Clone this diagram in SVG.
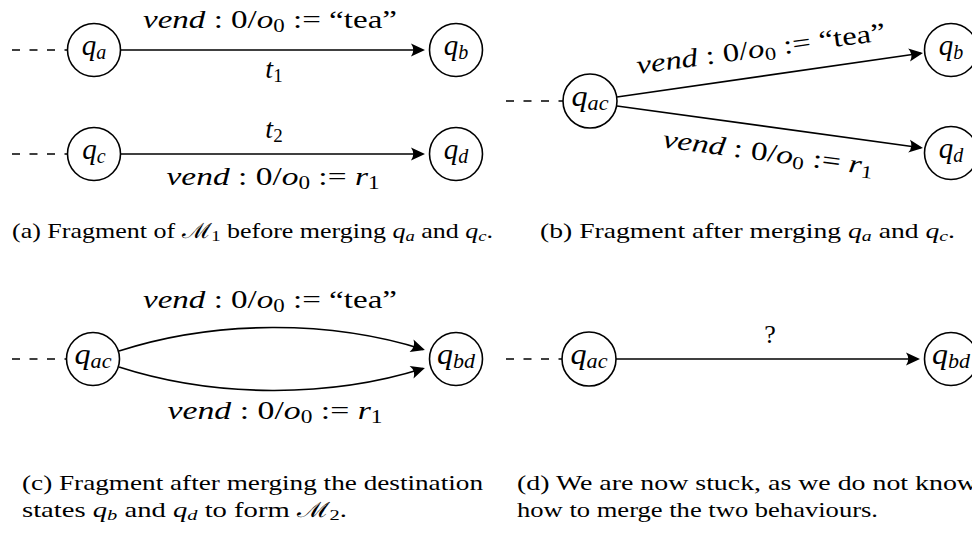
<svg xmlns="http://www.w3.org/2000/svg" width="972" height="533" viewBox="0 0 972 533" font-family="Liberation Serif, Times New Roman, serif">
<style>
text{font-family:'Liberation Serif','Times New Roman',serif;fill:#000}
.lbl{font-size:26px}
.cap{font-size:21px}
.i{font-style:italic}
.st{fill:#fff;stroke:#000;stroke-width:1.6}
.e{fill:none;stroke:#000;stroke-width:1.6}
.d{fill:none;stroke:#000;stroke-width:1.6;stroke-dasharray:8 9.5}
</style>
<defs>
<marker id="arr" markerUnits="userSpaceOnUse" orient="auto" overflow="visible" refX="-2" refY="0" markerWidth="20" markerHeight="20">
<path d="M0,0 L-14,-6.5 Q-9.5,0 -14,6.5 Z" fill="#000"/>
</marker>
</defs>

<g id="connectors">
<path class="d" d="M12,50 H68"/>
<path class="d" d="M12,154 H68"/>
<path class="e" d="M121,50 H423" marker-end="url(#arr)"/>
<path class="e" d="M121,154 H423" marker-end="url(#arr)"/>
<path class="d" d="M506,101 H563"/>
<path class="e" d="M617,97 L921,53.3" marker-end="url(#arr)"/>
<path class="e" d="M617,106 L921,147.7" marker-end="url(#arr)"/>
<path class="d" d="M12,359 H67"/>
<path class="e" d="M119,351 C215,320 330,320 423,349.4" marker-end="url(#arr)"/>
<path class="e" d="M119,367 C215,398 330,398 423,368.6" marker-end="url(#arr)"/>
<path class="d" d="M506,359 H562"/>
<path class="e" d="M616,359 H918" marker-end="url(#arr)"/>
</g>

<g id="labels" class="lbl" font-family="Liberation Serif, serif">
<text x="270" y="28" text-anchor="middle" textLength="254" lengthAdjust="spacingAndGlyphs"><tspan class="i">vend</tspan> : 0/<tspan class="i">o</tspan><tspan font-size="18" dy="4">0</tspan><tspan dy="-4"> := “tea”</tspan></text>
<text x="274" y="78" text-anchor="middle" font-size="28"><tspan class="i">t</tspan><tspan font-size="19" dy="4">1</tspan></text>
<text x="274" y="138" text-anchor="middle" font-size="28"><tspan class="i">t</tspan><tspan font-size="19" dy="4">2</tspan></text>
<text x="273" y="185" text-anchor="middle" textLength="213" lengthAdjust="spacingAndGlyphs"><tspan class="i">vend</tspan> : 0/<tspan class="i">o</tspan><tspan font-size="18" dy="4">0</tspan><tspan dy="-4"> := </tspan><tspan class="i">r</tspan><tspan font-size="18" dy="4">1</tspan></text>
<text x="762" y="57" text-anchor="middle" textLength="251" lengthAdjust="spacingAndGlyphs" transform="rotate(-7.8 762 57)"><tspan class="i">vend</tspan> : 0/<tspan class="i">o</tspan><tspan font-size="18" dy="4">0</tspan><tspan dy="-4"> := “tea”</tspan></text>
<text x="767" y="161" text-anchor="middle" textLength="212" lengthAdjust="spacingAndGlyphs" transform="rotate(7.5 767 161)"><tspan class="i">vend</tspan> : 0/<tspan class="i">o</tspan><tspan font-size="18" dy="4">0</tspan><tspan dy="-4"> := </tspan><tspan class="i">r</tspan><tspan font-size="18" dy="4">1</tspan></text>
<text x="270" y="308" text-anchor="middle" textLength="254" lengthAdjust="spacingAndGlyphs"><tspan class="i">vend</tspan> : 0/<tspan class="i">o</tspan><tspan font-size="18" dy="4">0</tspan><tspan dy="-4"> := “tea”</tspan></text>
<text x="275" y="419" text-anchor="middle" textLength="215" lengthAdjust="spacingAndGlyphs"><tspan class="i">vend</tspan> : 0/<tspan class="i">o</tspan><tspan font-size="18" dy="4">0</tspan><tspan dy="-4"> := </tspan><tspan class="i">r</tspan><tspan font-size="18" dy="4">1</tspan></text>
<text x="770" y="343" text-anchor="middle">?</text>
</g>

<g id="qa"><circle class="st" cx="94" cy="50" r="26.5"/><text x="94" y="55" text-anchor="middle" font-size="29"><tspan class="i">q</tspan><tspan class="i" font-size="20" dy="4">a</tspan></text></g>
<g id="qb"><circle class="st" cx="456" cy="50" r="26.5"/><text x="456" y="55" text-anchor="middle" font-size="29"><tspan class="i">q</tspan><tspan class="i" font-size="20" dy="4">b</tspan></text></g>
<g id="qc"><circle class="st" cx="94" cy="154" r="26.5"/><text x="94" y="159" text-anchor="middle" font-size="29"><tspan class="i">q</tspan><tspan class="i" font-size="20" dy="4">c</tspan></text></g>
<g id="qd"><circle class="st" cx="456" cy="154" r="26.5"/><text x="456" y="159" text-anchor="middle" font-size="29"><tspan class="i">q</tspan><tspan class="i" font-size="20" dy="4">d</tspan></text></g>

<g id="qac_b"><circle class="st" cx="590" cy="101" r="27"/><text x="590" y="106" text-anchor="middle" font-size="29" textLength="37" lengthAdjust="spacingAndGlyphs"><tspan class="i">q</tspan><tspan class="i" font-size="20" dy="4">ac</tspan></text></g>
<g id="qb_b"><circle class="st" cx="951" cy="50" r="26.5"/><text x="951" y="55" text-anchor="middle" font-size="29"><tspan class="i">q</tspan><tspan class="i" font-size="20" dy="4">b</tspan></text></g>
<g id="qd_b"><circle class="st" cx="951" cy="153" r="26.5"/><text x="951" y="158" text-anchor="middle" font-size="29"><tspan class="i">q</tspan><tspan class="i" font-size="20" dy="4">d</tspan></text></g>

<g id="qac_c"><circle class="st" cx="93" cy="359" r="26.5"/><text x="93" y="364" text-anchor="middle" font-size="29" textLength="37" lengthAdjust="spacingAndGlyphs"><tspan class="i">q</tspan><tspan class="i" font-size="20" dy="4">ac</tspan></text></g>
<g id="qbd_c"><circle class="st" cx="456" cy="359" r="26.5"/><text x="456" y="364" text-anchor="middle" font-size="29" textLength="38" lengthAdjust="spacingAndGlyphs"><tspan class="i">q</tspan><tspan class="i" font-size="20" dy="4">bd</tspan></text></g>

<g id="qac_d"><circle class="st" cx="589" cy="359" r="27"/><text x="589" y="364" text-anchor="middle" font-size="29" textLength="37" lengthAdjust="spacingAndGlyphs"><tspan class="i">q</tspan><tspan class="i" font-size="20" dy="4">ac</tspan></text></g>
<g id="qbd_d"><circle class="st" cx="951" cy="359" r="26.5"/><text x="951" y="364" text-anchor="middle" font-size="29" textLength="38" lengthAdjust="spacingAndGlyphs"><tspan class="i">q</tspan><tspan class="i" font-size="20" dy="4">bd</tspan></text></g>

<g id="captions" class="cap" font-family="Liberation Serif, serif">
<text x="12" y="238" textLength="481" lengthAdjust="spacingAndGlyphs">(a) Fragment of ℳ<tspan font-size="15" dy="3">1</tspan><tspan dy="-3"> before merging </tspan><tspan class="i">q</tspan><tspan class="i" font-size="15" dy="3">a</tspan><tspan dy="-3"> and </tspan><tspan class="i">q</tspan><tspan class="i" font-size="15" dy="3">c</tspan><tspan dy="-3">.</tspan></text>
<text x="540" y="238" textLength="415" lengthAdjust="spacingAndGlyphs">(b) Fragment after merging <tspan class="i">q</tspan><tspan class="i" font-size="15" dy="3">a</tspan><tspan dy="-3"> and </tspan><tspan class="i">q</tspan><tspan class="i" font-size="15" dy="3">c</tspan><tspan dy="-3">.</tspan></text>
<text x="22" y="490" textLength="461" lengthAdjust="spacingAndGlyphs">(c) Fragment after merging the destination</text>
<text x="22" y="517" textLength="325" lengthAdjust="spacingAndGlyphs">states <tspan class="i">q</tspan><tspan class="i" font-size="15" dy="3">b</tspan><tspan dy="-3"> and </tspan><tspan class="i">q</tspan><tspan class="i" font-size="15" dy="3">d</tspan><tspan dy="-3"> to form ℳ</tspan><tspan font-size="15" dy="3">2</tspan><tspan dy="-3">.</tspan></text>
<text x="517" y="490" textLength="460" lengthAdjust="spacingAndGlyphs">(d) We are now stuck, as we do not know</text>
<text x="517" y="517" textLength="361" lengthAdjust="spacingAndGlyphs">how to merge the two behaviours.</text>
</g>
</svg>
